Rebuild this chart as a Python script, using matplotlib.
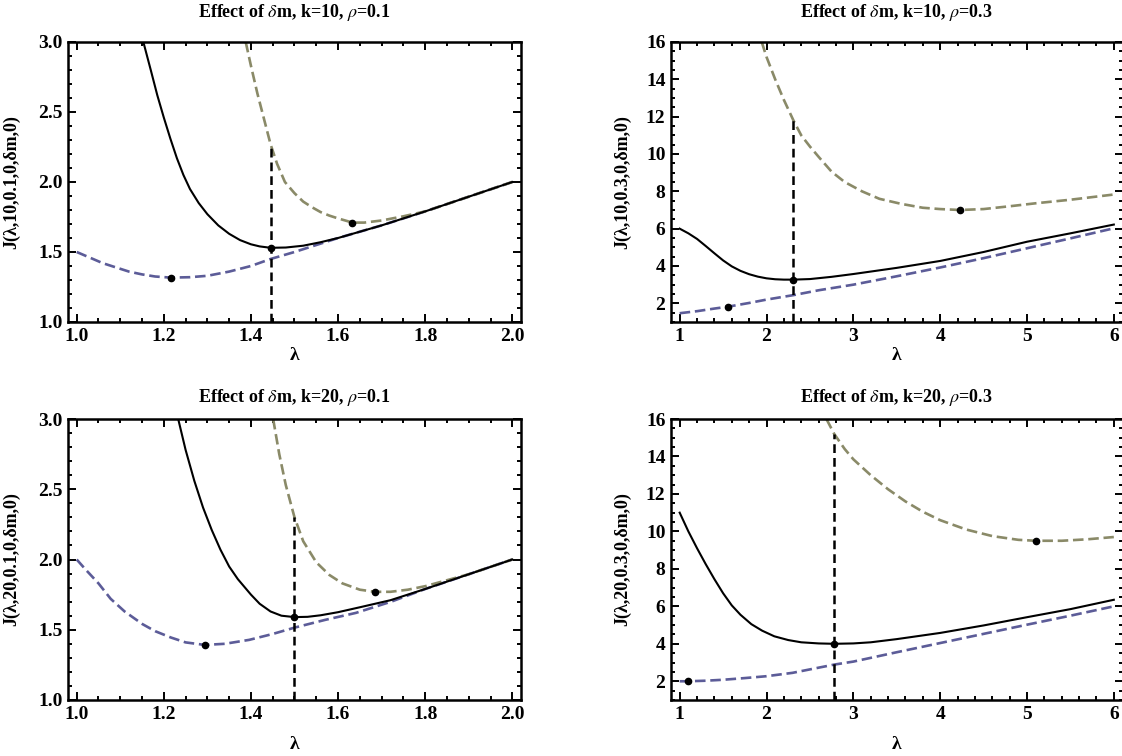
import numpy as np
import matplotlib
matplotlib.use("Agg")
import matplotlib.pyplot as plt
from matplotlib.ticker import MultipleLocator

plt.rcParams['font.family'] = ['Liberation Serif', 'DejaVu Serif']
plt.rcParams['mathtext.fontset'] = 'stix'

# ---------------- data ----------------
titles = ["Effect of $\\delta$m, k=10, $\\rho$=0.1", "Effect of $\\delta$m, k=10, $\\rho$=0.3",
          "Effect of $\\delta$m, k=20, $\\rho$=0.1", "Effect of $\\delta$m, k=20, $\\rho$=0.3"]
ylabels = ["J(λ,10,0.1,0,δm,0)", "J(λ,10,0.3,0,δm,0)",
           "J(λ,20,0.1,0,δm,0)", "J(λ,20,0.3,0,δm,0)"]

# top-left (k=10, rho=0.1)
tl_black_x = [1.153, 1.17, 1.185, 1.2, 1.215, 1.23, 1.245, 1.26, 1.28, 1.30, 1.325, 1.35, 1.375, 1.40,
              1.42, 1.445, 1.48, 1.52, 1.56, 1.60, 1.65, 1.70, 1.80, 1.90, 2.0]
tl_black_y = [3.0, 2.8, 2.62, 2.46, 2.31, 2.17, 2.05, 1.95, 1.85, 1.77, 1.69, 1.63, 1.585, 1.555,
              1.54, 1.53, 1.532, 1.545, 1.57, 1.60, 1.645, 1.69, 1.79, 1.895, 2.0]
tl_olive_x = [1.388, 1.40, 1.415, 1.43, 1.445, 1.46, 1.478, 1.50, 1.52, 1.54, 1.56, 1.58, 1.60, 1.633, 1.66,
              1.70, 1.75, 1.80, 1.90, 2.0]
tl_olive_y = [3.0, 2.83, 2.63, 2.45, 2.27, 2.13, 2.0, 1.92, 1.86, 1.82, 1.785, 1.76, 1.74, 1.71, 1.71,
              1.725, 1.755, 1.79, 1.895, 2.0]
tl_blue_x = [1.0, 1.03, 1.06, 1.09, 1.12, 1.15, 1.18, 1.216, 1.26, 1.30, 1.35, 1.40, 1.445, 1.50, 1.55,
             1.60, 1.70, 1.80, 1.90, 2.0]
tl_blue_y = [1.5, 1.46, 1.42, 1.39, 1.36, 1.34, 1.325, 1.317, 1.32, 1.33, 1.36, 1.40, 1.45, 1.50, 1.55,
             1.60, 1.69, 1.79, 1.895, 2.0]

# top-right (k=10, rho=0.3)
tr_black_x = [1.0, 1.1, 1.2, 1.3, 1.4, 1.5, 1.6, 1.7, 1.8, 1.9, 2.0, 2.1, 2.2, 2.31, 2.5, 2.75, 3.0, 3.5,
              4.0, 4.5, 5.0, 5.5, 6.0]
tr_black_y = [6.0, 5.75, 5.45, 5.07, 4.68, 4.3, 3.98, 3.74, 3.56, 3.43, 3.34, 3.29, 3.27, 3.27, 3.3,
              3.42, 3.57, 3.9, 4.27, 4.75, 5.3, 5.75, 6.22]
tr_olive_x = [1.945, 2.0, 2.1, 2.2, 2.31, 2.4, 2.5, 2.6, 2.75, 2.9, 3.1, 3.3, 3.55, 3.8, 4.0, 4.23, 4.5,
              4.8, 5.1, 5.5, 6.0]
tr_olive_y = [16.0, 15.2, 14.0, 12.9, 11.8, 11.0, 10.4, 9.85, 9.05, 8.5, 8.0, 7.6, 7.33, 7.12, 7.05,
              7.0, 7.05, 7.2, 7.36, 7.55, 7.83]
tr_blue_x = [1.0, 1.2, 1.4, 1.556, 1.8, 2.0, 2.31, 2.6, 3.0, 3.5, 4.0, 4.5, 5.0, 5.5, 6.0]
tr_blue_y = [1.47, 1.58, 1.72, 1.82, 2.02, 2.2, 2.44, 2.7, 3.0, 3.45, 3.92, 4.42, 4.95, 5.48, 6.02]

# bottom-left (k=20, rho=0.1)
bl_black_x = [1.233, 1.25, 1.27, 1.29, 1.31, 1.33, 1.35, 1.37, 1.40, 1.42, 1.445, 1.47, 1.50, 1.53, 1.56,
              1.60, 1.65, 1.72, 1.80, 1.90, 2.0]
bl_black_y = [3.0, 2.78, 2.56, 2.37, 2.21, 2.07, 1.95, 1.86, 1.75, 1.685, 1.63, 1.60, 1.59, 1.592, 1.603,
              1.625, 1.66, 1.71, 1.79, 1.895, 2.0]
bl_olive_x = [1.451, 1.465, 1.48, 1.50, 1.52, 1.55, 1.58, 1.61, 1.65, 1.685, 1.72, 1.76, 1.80, 1.90, 2.0]
bl_olive_y = [3.0, 2.75, 2.53, 2.3, 2.13, 1.98, 1.89, 1.83, 1.785, 1.77, 1.77, 1.785, 1.81, 1.895, 2.0]
bl_blue_x = [1.0, 1.02, 1.05, 1.078, 1.11, 1.151, 1.18, 1.216, 1.25, 1.294, 1.34, 1.396, 1.45, 1.50, 1.57,
             1.641, 1.722, 1.80, 1.90, 2.0]
bl_blue_y = [2.0, 1.93, 1.83, 1.72, 1.63, 1.54, 1.49, 1.445, 1.41, 1.392, 1.40, 1.428, 1.47, 1.515, 1.57,
             1.62, 1.70, 1.79, 1.895, 2.0]

# bottom-right (k=20, rho=0.3)
br_black_x = [1.0, 1.1, 1.2, 1.3, 1.4, 1.5, 1.6, 1.7, 1.825, 1.95, 2.09, 2.25, 2.4, 2.6, 2.78, 3.0, 3.2,
              3.5, 4.0, 4.5, 5.0, 5.5, 6.0]
br_black_y = [11.0, 10.0, 9.1, 8.25, 7.45, 6.7, 6.05, 5.55, 5.05, 4.7, 4.4, 4.2, 4.08, 4.02, 4.0, 4.02,
              4.08, 4.25, 4.58, 4.98, 5.42, 5.85, 6.35]
br_olive_x = [2.69, 2.78, 2.9, 3.0, 3.2, 3.4, 3.6, 3.8, 4.0, 4.3, 4.6, 4.9, 5.1, 5.4, 5.7, 6.0]
br_olive_y = [16.0, 15.2, 14.4, 13.85, 13.0, 12.25, 11.6, 11.05, 10.6, 10.1, 9.75, 9.55, 9.5, 9.5,
              9.58, 9.7]
br_blue_x = [1.0, 1.1, 1.3, 1.5, 1.75, 2.0, 2.3, 2.55, 2.78, 3.0, 3.5, 4.0, 4.5, 5.0, 5.5, 6.0]
br_blue_y = [2.0, 2.0, 2.03, 2.08, 2.17, 2.27, 2.45, 2.68, 2.89, 3.05, 3.55, 4.04, 4.53, 5.02, 5.5, 6.0]

# minima dots (black, olive, blue) and vertical marker lines (x, top)
min_black = [(1.445, 1.53), (2.31, 3.27), (1.5, 1.59), (2.78, 4.0)]
min_olive = [(1.633, 1.71), (4.23, 7.0), (1.685, 1.77), (5.1, 9.5)]
min_blue = [(1.216, 1.317), (1.556, 1.82), (1.294, 1.392), (1.1, 2.0)]
vlines = [(1.445, 2.25), (2.31, 11.8), (1.5, 2.3), (2.78, 15.2)]

curves = [
    (tl_black_x, tl_black_y, tl_olive_x, tl_olive_y, tl_blue_x, tl_blue_y),
    (tr_black_x, tr_black_y, tr_olive_x, tr_olive_y, tr_blue_x, tr_blue_y),
    (bl_black_x, bl_black_y, bl_olive_x, bl_olive_y, bl_blue_x, bl_blue_y),
    (br_black_x, br_black_y, br_olive_x, br_olive_y, br_blue_x, br_blue_y),
]

# ---------------- figure ----------------
W, H = 1122, 756
fig = plt.figure(figsize=(W / 100, H / 100), dpi=100)

def px_axes(x0, x1, y0, y1):
    return fig.add_axes([x0 / W, 1 - y1 / H, (x1 - x0) / W, (y1 - y0) / H])

axes = [px_axes(68, 521, 42, 322), px_axes(671, 1122.5, 42, 322),
        px_axes(68, 521, 419, 700), px_axes(671, 1122.5, 419, 700)]

olive = '#8a8a68'
blue = '#5c5c98'
dash = (0, (4.0, 1.8))

title_y = [1.107, 1.107, 1.075, 1.075]
xlab_y = [-0.118, -0.118, -0.16, -0.16]
ylab_x = [-0.106, -0.089, -0.106, -0.089]

for i, ax in enumerate(axes):
    bx, by, ox, oy, ux, uy = curves[i]
    ax.plot(ux, uy, color=blue, lw=1.9, ls=dash, zorder=2)
    ax.plot(ox, oy, color=olive, lw=1.9, ls=dash, zorder=2)
    ax.plot(bx, by, color='black', lw=1.5, zorder=3)
    vx, vtop = vlines[i]
    small = i in (0, 2)
    ax.plot([vx, vx], [1.0, vtop], color='black', lw=1.8, ls=(0, (3.5, 2)), zorder=4)
    for (mx, my) in (min_black[i], min_olive[i], min_blue[i]):
        ax.plot(mx, my, 'o', color='black', ms=4.5, zorder=5)

    if small:
        ax.set_xlim(0.98, 2.02)
        ax.set_ylim(1.0, 3.0)
        ax.xaxis.set_major_locator(MultipleLocator(0.2))
        ax.xaxis.set_minor_locator(MultipleLocator(0.05))
        ax.yaxis.set_major_locator(MultipleLocator(0.5))
        ax.yaxis.set_minor_locator(MultipleLocator(0.1))
        ax.xaxis.set_major_formatter(plt.FuncFormatter(lambda v, p: f"{v:.1f}"))
        ax.yaxis.set_major_formatter(plt.FuncFormatter(lambda v, p: f"{v:.1f}"))
    else:
        ax.set_xlim(0.9, 6.1)
        ax.set_ylim(1.0, 16.0)
        ax.xaxis.set_major_locator(MultipleLocator(1))
        ax.xaxis.set_minor_locator(MultipleLocator(0.2))
        ax.set_yticks([2, 4, 6, 8, 10, 12, 14, 16])
        ax.yaxis.set_minor_locator(MultipleLocator(0.5))

    ax.tick_params(which='both', direction='in', top=True, right=True, width=1.4)
    ax.tick_params(which='major', length=5.5, labelsize=14, pad=4)
    ax.tick_params(which='minor', length=3)
    for lab in ax.get_xticklabels() + ax.get_yticklabels():
        lab.set_fontweight('bold')
    for sp in ax.spines.values():
        sp.set_linewidth(1.8)

    ax.text(0.5, title_y[i], titles[i], transform=ax.transAxes, ha='center', va='center',
            fontsize=13, fontweight='bold')
    ax.set_xlabel("λ", fontsize=14, fontweight='bold')
    ax.xaxis.set_label_coords(0.5, xlab_y[i])
    ax.xaxis.label.set_verticalalignment('center')
    ax.set_ylabel(ylabels[i], fontsize=13, fontweight='bold')
    ax.yaxis.set_label_coords(ylab_x[i], 0.5)

fig.savefig("out.png", dpi=100)
